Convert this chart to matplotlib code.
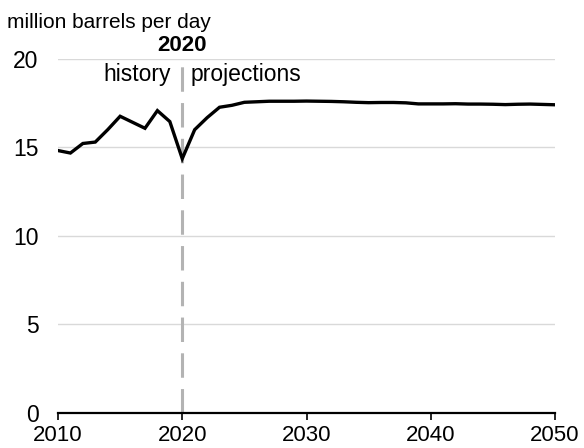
import matplotlib
matplotlib.use("Agg")
from matplotlib import pyplot as plt

# values
years = list(range(2010, 2051))
production = [
    14.82, 14.68, 15.22, 15.30, 16.00, 16.76, 16.42, 16.08, 17.08, 16.46,
    14.36, 16.00, 16.68, 17.27, 17.38, 17.55, 17.58, 17.61, 17.61, 17.61,
    17.62, 17.61, 17.60, 17.58, 17.55, 17.53, 17.54, 17.54, 17.52, 17.46,
    17.46, 17.46, 17.47, 17.45, 17.45, 17.44, 17.42, 17.44, 17.45, 17.43,
    17.41,
]
x_ticks = [2010, 2020, 2030, 2040, 2050]
y_ticks = [0, 5, 10, 15, 20]
split_year = 2020

plt.rcParams['font.family'] = ['Liberation Sans', 'DejaVu Sans']

fig = plt.figure(figsize=(5.84, 4.48), dpi=100)
ax = fig.add_axes([58 / 584, 1 - 412.5 / 448, (555 - 58) / 584, (412.5 - 59) / 448])

ax.set_xlim(2010, 2050)
ax.set_ylim(0, 20)

ax.set_yticks(y_ticks)
ax.set_xticks(x_ticks)
ax.grid(axis='y', color='#d9d9d9', linewidth=1.0)
ax.set_axisbelow(True)

for side in ['left', 'right', 'top']:
    ax.spines[side].set_visible(False)
ax.spines['bottom'].set_color('black')
ax.spines['bottom'].set_linewidth(1.6)

ax.tick_params(axis='y', length=0, pad=14, labelsize=16.5)
ax.tick_params(axis='x', direction='out', length=5, width=1.2, labelsize=16, pad=4)

# history / projections divider
ax.plot([split_year, split_year], [0, 20], color='#b3b3b3', linewidth=2.2,
        dashes=(8, 3.7), zorder=2, clip_on=False)

ax.plot(years, production, color='black', linewidth=2.4, zorder=3,
        solid_joinstyle='miter')

ax.text(split_year, 20.15, '2020', ha='center', va='bottom', fontsize=16,
        fontweight='bold')
ax.text(split_year - 0.9, 19.1, 'history', ha='right', va='center', fontsize=16.5)
ax.text(split_year + 0.7, 19.1, 'projections', ha='left', va='center', fontsize=16.5)

fig.text(7 / 584, 1 - 27.5 / 448, 'million barrels per day', ha='left',
         va='baseline', fontsize=15)

fig.savefig('out.png', dpi=100)
